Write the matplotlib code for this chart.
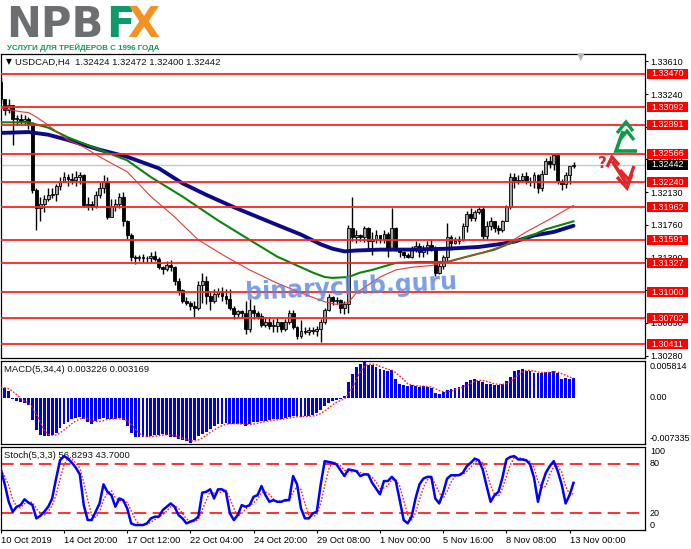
import numpy as np
import pandas as pd
import matplotlib
matplotlib.use("Agg")
import matplotlib.pyplot as plt
import matplotlib.transforms as mtransforms
from matplotlib.patches import Rectangle
from matplotlib.lines import Line2D

W, H = 691, 549

# USDCAD H4 candles (open of each bar = previous close)
first_open = 1.3338
high = [1.3342, 1.3318, 1.3318, 1.3312, 1.3300, 1.3301, 1.3300, 1.3298, 1.3292, 1.3218,
        1.3208, 1.3210, 1.3218, 1.3218, 1.3222, 1.3230, 1.3236, 1.3234, 1.3235, 1.3237,
        1.3236, 1.3233, 1.3207, 1.3203, 1.3214, 1.3225, 1.3232, 1.3230, 1.3205, 1.3205,
        1.3212, 1.3213, 1.3182, 1.3167, 1.3142, 1.3142, 1.3143, 1.3141, 1.3145, 1.3146,
        1.3140, 1.3130, 1.3135, 1.3136, 1.3130, 1.3116, 1.3104, 1.3094, 1.3090, 1.3090,
        1.3112, 1.3122, 1.3118, 1.3100, 1.3103, 1.3105, 1.3106, 1.3104, 1.3104, 1.3084,
        1.3080, 1.3080, 1.3090, 1.3092, 1.3085, 1.3078, 1.3076, 1.3072, 1.3072, 1.3070,
        1.3071, 1.3066, 1.3070, 1.3080, 1.3080, 1.3062, 1.3068, 1.3060, 1.3060, 1.3060,
        1.3062, 1.3069, 1.3082, 1.3098, 1.3095, 1.3094, 1.3092, 1.3090, 1.3176, 1.3208,
        1.3170, 1.3166, 1.3175, 1.3174, 1.3168, 1.3170, 1.3165, 1.3170, 1.3168, 1.3195,
        1.3174, 1.3150, 1.3146, 1.3144, 1.3152, 1.3158, 1.3155, 1.3153, 1.3158, 1.3160,
        1.3152, 1.3135, 1.3142, 1.3178, 1.3165, 1.3162, 1.3163, 1.3178, 1.3192, 1.3195,
        1.3193, 1.3197, 1.3197, 1.3180, 1.3185, 1.3178, 1.3176, 1.3182, 1.3198, 1.3235,
        1.3235, 1.3232, 1.3235, 1.3236, 1.3230, 1.3236, 1.3233, 1.3238, 1.3252, 1.3254,
        1.3256, 1.3257, 1.3228, 1.3236, 1.3242, 1.32472]
low = [1.3314, 1.3300, 1.3302, 1.3266, 1.3289, 1.3290, 1.3289, 1.3284, 1.3212, 1.3170,
       1.3180, 1.3190, 1.3203, 1.3206, 1.3203, 1.3216, 1.3224, 1.3220, 1.3222, 1.3220,
       1.3222, 1.3196, 1.3193, 1.3193, 1.3195, 1.3206, 1.3212, 1.3183, 1.3185, 1.3192,
       1.3195, 1.3175, 1.3160, 1.3135, 1.3132, 1.3135, 1.3134, 1.3134, 1.3134, 1.3135,
       1.3126, 1.3120, 1.3124, 1.3124, 1.3108, 1.3097, 1.3088, 1.3085, 1.3080, 1.3072,
       1.3080, 1.3088, 1.3086, 1.3080, 1.3088, 1.3094, 1.3090, 1.3086, 1.3080, 1.3070,
       1.3072, 1.3071, 1.3053, 1.3055, 1.3070, 1.3070, 1.3060, 1.3060, 1.3058, 1.3055,
       1.3055, 1.3055, 1.3056, 1.3064, 1.3058, 1.3047, 1.3048, 1.3052, 1.3051, 1.3052,
       1.3050, 1.3043, 1.3064, 1.3078, 1.3085, 1.3086, 1.3076, 1.3075, 1.3076, 1.3158,
       1.3155, 1.3158, 1.3157, 1.3148, 1.3142, 1.3156, 1.3155, 1.3156, 1.3140, 1.3148,
       1.3146, 1.3140, 1.3138, 1.3138, 1.3138, 1.3145, 1.3140, 1.3140, 1.3143, 1.3146,
       1.3118, 1.3120, 1.3126, 1.3135, 1.3148, 1.3154, 1.3154, 1.3158, 1.3168, 1.3180,
       1.3180, 1.3188, 1.3160, 1.3160, 1.3170, 1.3168, 1.3166, 1.3168, 1.3180, 1.3194,
       1.3218, 1.3222, 1.3225, 1.3222, 1.3220, 1.3218, 1.3212, 1.3214, 1.3234, 1.3240,
       1.3238, 1.3222, 1.3216, 1.3218, 1.3222, 1.32400]
close = [1.3318, 1.3306, 1.3312, 1.3296, 1.3296, 1.3293, 1.3296, 1.3290, 1.3215, 1.3195,
         1.3200, 1.3205, 1.3210, 1.3211, 1.3220, 1.3225, 1.3230, 1.3228, 1.3227, 1.3230,
         1.3232, 1.3198, 1.3200, 1.3197, 1.3210, 1.3218, 1.3225, 1.3185, 1.3197, 1.3200,
         1.3208, 1.3180, 1.3165, 1.3140, 1.3138, 1.3140, 1.3139, 1.3138, 1.3141, 1.3137,
         1.3128, 1.3126, 1.3131, 1.3128, 1.3112, 1.3102, 1.3090, 1.3088, 1.3084, 1.3082,
         1.3108, 1.3112, 1.3096, 1.3090, 1.3098, 1.3100, 1.3096, 1.3092, 1.3082, 1.3075,
         1.3078, 1.3076, 1.3058, 1.3080, 1.3076, 1.3073, 1.3063, 1.3066, 1.3062, 1.3062,
         1.3066, 1.3058, 1.3066, 1.3076, 1.3060, 1.3050, 1.3056, 1.3055, 1.3057, 1.3056,
         1.3058, 1.3066, 1.3080, 1.3094, 1.3090, 1.3091, 1.3082, 1.3086, 1.3172, 1.3162,
         1.3165, 1.3162, 1.3172, 1.3158, 1.3160, 1.3165, 1.3160, 1.3166, 1.3150, 1.3172,
         1.3150, 1.3145, 1.3142, 1.3140, 1.3150, 1.3152, 1.3145, 1.3150, 1.3153, 1.3150,
         1.3122, 1.3130, 1.3140, 1.3162, 1.3155, 1.3158, 1.3160, 1.3175, 1.3188, 1.3184,
         1.3190, 1.3194, 1.3163, 1.3175, 1.3180, 1.3172, 1.3170, 1.3180, 1.3196, 1.3230,
         1.3226, 1.3227, 1.3231, 1.3224, 1.3226, 1.3232, 1.3218, 1.3234, 1.3248, 1.3245,
         1.3255, 1.3226, 1.3222, 1.3232, 1.32424, 1.32442]

# moving averages at selected bars
ma_fast_bars = [0, 5, 7, 9, 11, 17, 21, 25, 32, 38, 44, 50, 57, 63, 70, 76, 82, 85, 88,
                90, 93, 96, 100, 104, 109, 113, 118, 123, 128, 133, 138, 145]
ma_fast = [1.3308, 1.3304, 1.3303, 1.3298, 1.3292, 1.3272, 1.3264, 1.3253, 1.3236, 1.3208,
           1.3185, 1.3159, 1.3140, 1.3125, 1.3110, 1.3099, 1.3089, 1.3086, 1.3088, 1.3099,
           1.3108, 1.3117, 1.3125, 1.3128, 1.3130, 1.3134, 1.3140, 1.3146, 1.3154, 1.3168,
           1.3180, 1.3198]
ma_mid_bars = [0, 7, 12, 17, 25, 32, 38, 46, 55, 63, 70, 76, 79, 82, 84, 88, 91, 94, 100,
               106, 113, 118, 125, 130, 135, 138, 145]
ma_mid = [1.3292, 1.3292, 1.3286, 1.3275, 1.3261, 1.3249, 1.3230, 1.3208, 1.3181, 1.3159,
          1.3140, 1.3128, 1.3122, 1.3117, 1.3116, 1.3117, 1.3122, 1.3125, 1.3133, 1.3134,
          1.3134, 1.3140, 1.3148, 1.3157, 1.3165, 1.3171, 1.3180]
ma_slow_bars = [0, 7, 12, 17, 25, 32, 40, 46, 52, 59, 65, 71, 76, 81, 84, 87, 90, 96, 104,
                113, 121, 126, 130, 135, 140, 145]
ma_slow = [1.3280, 1.3281, 1.3278, 1.3272, 1.3261, 1.3253, 1.3240, 1.3223, 1.3210, 1.3196,
           1.3185, 1.3174, 1.3165, 1.3154, 1.3149, 1.3146, 1.3147, 1.3148, 1.3148, 1.3149,
           1.3151, 1.3154, 1.3157, 1.3164, 1.3168, 1.3175]

levels = [1.33470, 1.33092, 1.32891, 1.32566, 1.32240, 1.31962, 1.31591, 1.31327,
          1.31000, 1.30702, 1.30411]
last_price = 1.32442
price_ticks = [1.30280, 1.30650, 1.31020, 1.31390, 1.31760, 1.32130, 1.32500, 1.32870,
               1.33240, 1.33610]

macd = [0.0017, 0.0016, 0.0011, -0.0002, -0.0005, -0.0007, -0.0009, -0.0011, -0.0036, -0.0052,
        -0.0060, -0.0062, -0.0062, -0.0060, -0.0057, -0.0049, -0.0043, -0.0040, -0.0035, -0.0032,
        -0.0031, -0.0034, -0.0040, -0.0042, -0.0038, -0.0035, -0.0033, -0.0034, -0.0035, -0.0034,
        -0.0033, -0.0036, -0.0046, -0.0057, -0.0063, -0.0064, -0.0063, -0.0063, -0.0062, -0.0061,
        -0.0060, -0.0059, -0.0060, -0.0063, -0.0064, -0.0067, -0.0069, -0.0070, -0.007335, -0.0068,
        -0.0062, -0.0058, -0.0055, -0.0050, -0.0046, -0.0043, -0.0042, -0.0041, -0.0042, -0.0043,
        -0.0042, -0.0043, -0.0045, -0.0042, -0.0040, -0.0039, -0.0038, -0.0037, -0.0036, -0.0035,
        -0.0035, -0.0034, -0.0032, -0.0031, -0.0030, -0.0030, -0.0031, -0.0030, -0.0029, -0.0028,
        -0.0025, -0.0020, -0.0013, -0.0008, -0.0005, -0.0003, -0.0002, 0.0003, 0.0026, 0.0038,
        0.0050, 0.0055, 0.005814, 0.0054, 0.0053, 0.0050, 0.0047, 0.0045, 0.0043, 0.0045,
        0.0030, 0.0023, 0.0020, 0.0019, 0.0020, 0.0019, 0.0018, 0.0019, 0.0017, 0.0016,
        0.0008, 0.0006, 0.0010, 0.0013, 0.0014, 0.0016, 0.0018, 0.0021, 0.0026, 0.0029,
        0.0031, 0.0028, 0.0025, 0.0023, 0.0022, 0.0021, 0.0021, 0.0023, 0.0027, 0.0033,
        0.0043, 0.0045, 0.0046, 0.0044, 0.0043, 0.0041, 0.0040, 0.0041, 0.0042, 0.0042,
        0.0044, 0.0040, 0.0031, 0.0032, 0.0031, 0.003226]

stoch_k = [73, 55, 34, 22, 28, 30, 37, 33, 30, 14, 17, 22, 28, 38, 62, 84, 89, 86, 81, 75,
           67, 30, 12, 12, 22, 32, 55, 46, 42, 28, 38, 36, 26, 8, 6, 6, 6, 8, 14, 16,
           16, 24, 28, 32, 28, 18, 14, 8, 10, 12, 16, 45, 46, 49, 38, 49, 49, 46, 20, 12,
           18, 30, 28, 30, 40, 42, 53, 42, 34, 36, 34, 34, 36, 36, 65, 55, 26, 14, 14, 20,
           22, 55, 83, 82, 81, 79, 72, 65, 73, 72, 71, 65, 67, 67, 57, 50, 43, 59, 59, 64,
           59, 36, 12, 8, 16, 38, 55, 62, 64, 64, 38, 32, 45, 62, 66, 66, 66, 69, 77, 81,
           86, 84, 73, 53, 34, 42, 46, 63, 85, 88, 89, 85, 85, 84, 79, 63, 34, 55, 69, 77,
           83, 71, 55, 32, 42, 56.8293]

time_ticks = [0, 16, 32, 48, 64, 80, 96, 112, 128, 144]
time_labels = ["10 Oct 2019", "14 Oct 20:00", "17 Oct 12:00", "22 Oct 04:00", "24 Oct 20:00",
               "29 Oct 08:00", "1 Nov 00:00", "5 Nov 16:00", "8 Nov 08:00", "13 Nov 00:00"]

plt.rcParams["font.family"] = ["Liberation Sans", "DejaVu Sans"]

fig = plt.figure(figsize=(W / 100, H / 100), dpi=100)
fig.patch.set_facecolor("white")


def axes_px(left, top, right, bottom):
    return fig.add_axes([left / W, 1 - bottom / H, (right - left) / W, (bottom - top) / H])


def fx(x):
    return x / W


def fy(y):
    return 1 - y / H


n = len(close)
x = np.arange(n)
close_a = np.array(close)
open_a = np.r_[first_open, close_a[:-1]]
high_a = np.array(high)
low_a = np.array(low)
xlim = (-0.08, 163.1)

# ---------------- main price panel ----------------
ax = axes_px(0.5, 53.5, 645, 357.5)
ax.set_xlim(*xlim)
ax.set_ylim(1.302596, 1.336985)

ax.axhline(last_price, color="#c8c8c8", lw=1.0, zorder=1)
ax.vlines(x, low_a, high_a, color="black", lw=1.0, zorder=3)
up = close_a >= open_a
body_lo = np.minimum(open_a, close_a)
body_h = np.maximum(np.abs(close_a - open_a), 0.00004)
ax.bar(x, body_h, bottom=body_lo, width=0.72,
       color=np.where(up, "#a0a0a0", "black"), edgecolor="black", lw=0.6, zorder=4)

ax.plot(ma_slow_bars, ma_slow, color="#0b0b8a", lw=2.8, solid_capstyle="round",
        solid_joinstyle="round", zorder=5)
ax.plot(ma_mid_bars, ma_mid, color="#0d840d", lw=1.5, solid_joinstyle="round", zorder=5)
ax.plot(ma_fast_bars, ma_fast, color="#e23a3a", lw=0.8, zorder=5)

for lv in levels:
    ax.axhline(lv, color="#ff2222", lw=1.3, zorder=6)

ax.yaxis.tick_right()
ax.set_yticks(price_ticks)
ax.set_yticklabels([f"{t:.5f}" for t in price_ticks])
ax.tick_params(axis="y", length=2.5, width=0.8, pad=1.5, labelsize=6.5, colors="black")
ax.set_xticks([])

trans = mtransforms.blended_transform_factory(ax.transAxes, ax.transData)
hh = 5.0 / 8840
bx0 = (647 - 0.5) / 644.5
bw = 41 / 644.5
for lv in levels:
    ax.add_patch(Rectangle((bx0, lv - hh), bw, 2 * hh, transform=trans, fc="#ff0000",
                           ec="none", clip_on=False, zorder=10))
    ax.text(bx0 + bw / 2, lv, f"{lv:.5f}", transform=trans, ha="center", va="center",
            color="white", fontsize=6.5, zorder=11, clip_on=False)
ax.add_patch(Rectangle((bx0, last_price - hh), bw, 2 * hh, transform=trans, fc="black",
                       ec="none", clip_on=False, zorder=10))
ax.text(bx0 + bw / 2, last_price, f"{last_price:.5f}", transform=trans, ha="center",
        va="center", color="white", fontsize=6.5, zorder=11, clip_on=False)

ax.text(0.0085, 0.972, "\u25bc", transform=ax.transAxes, fontsize=5.5, family="DejaVu Sans",
        va="center", ha="left", color="black")
ax.text(0.022, 0.972, "USDCAD,H4  1.32424 1.32472 1.32400 1.32442", transform=ax.transAxes,
        fontsize=6.8, va="center", ha="left", color="#111111")
ax.text(0.9, 0.988, "\u25bc", transform=ax.transAxes, fontsize=7, family="DejaVu Sans",
        va="center", ha="center", color="#b4b4b4")

ax.text(0.544, 0.232, "binaryclub.guru", transform=ax.transAxes, fontsize=17,
        fontweight="bold", family="DejaVu Sans", color="#5b86dc", alpha=0.8,
        ha="center", va="center", rotation=3, zorder=7)

# ---------------- MACD panel ----------------
ax2 = axes_px(0.5, 361, 645, 444)
ax2.set_xlim(*xlim)
ax2.set_ylim(-0.007497, 0.005976)
ax2.bar(x, macd, width=0.72, color="#0000ee", lw=0, zorder=3)
macd_sig = pd.Series(macd).rolling(4, min_periods=1).mean()
ax2.plot(x, macd_sig, color="#ff2020", lw=1.0, ls=(0, (1.2, 1.2)), zorder=4)
ax2.yaxis.tick_right()
ax2.set_yticks([0.005814, 0.0, -0.007335])
ax2.set_yticklabels(["0.005814", "0.00", "-0.007335"])
ax2.tick_params(axis="y", length=0, pad=3.5, labelsize=6.5)
for lab, va in zip(ax2.get_yticklabels(), ["top", "center", "bottom"]):
    lab.set_va(va)
ax2.set_xticks([])
ax2.text(0.006, 0.9, "MACD(5,34,4) 0.003226 0.003169", transform=ax2.transAxes,
         fontsize=6.8, va="center", ha="left", color="#111111")

# ---------------- Stochastic panel ----------------
ax3 = axes_px(0.5, 447, 645, 530)
ax3.set_xlim(*xlim)
ax3.set_ylim(0, 100)
ax3.axhline(80, color="#ff2020", lw=1.3, dashes=(7, 3.5), zorder=2)
ax3.axhline(20, color="#ff2020", lw=1.3, dashes=(7, 3.5), zorder=2)
stoch_sig = pd.Series(stoch_k).rolling(3, min_periods=1).mean()
ax3.plot(x, stoch_sig, color="#ff2020", lw=1.0, ls=(0, (1.2, 1.2)), zorder=3)
ax3.plot(x, stoch_k, color="#0000ff", lw=1.8, zorder=4)
ax3.yaxis.tick_right()
ax3.set_yticks([100, 80, 20, 0])
ax3.set_yticklabels(["100", "80", "20", "0"])
ax3.tick_params(axis="y", length=0, pad=3.5, labelsize=6.5)
for lab, va in zip(ax3.get_yticklabels(), ["top", "center", "center", "bottom"]):
    lab.set_va(va)
ax3.set_xticks(time_ticks)
ax3.set_xticklabels(time_labels)
ax3.tick_params(axis="x", length=2.5, width=0.8, pad=1.5, labelsize=6.7)
for lab in ax3.get_xticklabels():
    lab.set_ha("left")
ax3.text(0.006, 0.9, "Stoch(5,3,3) 56.8293 43.7000", transform=ax3.transAxes,
         fontsize=6.8, va="center", ha="left", color="#111111")

for a in (ax, ax2, ax3):
    for sp in a.spines.values():
        sp.set_linewidth(0.9)
        sp.set_color("black")

# ---------------- logo ----------------
fig.text(fx(6), fy(37), "NPB", fontsize=30, fontweight="bold", family="DejaVu Sans",
         color="#6d6e71", va="baseline", ha="left")
fig.text(fx(106), fy(37), "F", fontsize=30, fontweight="bold", family="DejaVu Sans",
         color="#0d9a6b", va="baseline", ha="left")
fig.text(fx(127), fy(37), "X", fontsize=30, fontweight="bold", family="DejaVu Sans",
         color="#f39221", va="baseline", ha="left")
fig.text(fx(7), fy(50), "УСЛУГИ ДЛЯ ТРЕЙДЕРОВ С 1996 ГОДА", fontsize=5.7, fontweight="bold",
         family=["Liberation Sans Narrow", "Liberation Sans"], color="#129a57",
         va="baseline", ha="left")

# ---------------- forecast arrows ----------------
def fig_line(pts, color, lw):
    xs = [fx(p[0]) for p in pts]
    ys = [fy(p[1]) for p in pts]
    fig.add_artist(Line2D(xs, ys, color=color, lw=lw, solid_joinstyle="miter",
                          solid_capstyle="butt"))


green = "#0f9a4a"
red = "#e0262b"
fig_line([(637, 151), (616, 151), (623, 131)], green, 2.6)
fig_line([(617, 133), (626, 122), (633, 131)], green, 2.4)
fig_line([(619, 141), (627, 131), (634, 140)], green, 2.4)
fig_line([(612, 161), (627, 184)], red, 2.6)
fig_line([(607, 167), (612, 157), (619, 165)], red, 2.4)
fig_line([(617, 177), (627, 188), (632, 174)], red, 2.4)
fig_line([(620, 170), (629, 180), (634, 166)], red, 2.4)
fig.text(fx(602), fy(164), "?", fontsize=11, fontweight="bold", color=red,
         family="DejaVu Sans", ha="center", va="center")

fig.savefig("out.png", dpi=100)
